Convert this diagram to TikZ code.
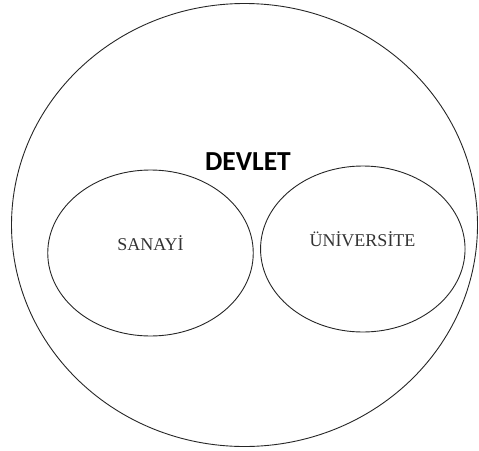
\documentclass[tikz,border=0pt]{standalone}
\usepackage{fontspec}
\setmainfont{Liberation Serif}
\newfontfamily\calib{Carlito}
\usetikzlibrary{shapes.geometric}
\begin{document}
\begin{tikzpicture}[x=1pt,y=-1pt,
  oval/.style={ellipse, draw=black!85, line width=0.9pt, inner sep=0pt},
  lbl/.style={anchor=base, inner sep=0pt, text=black!80, font=\fontsize{18}{20}\selectfont},
  title/.style={anchor=base, inner sep=0pt, font=\calib\bfseries\fontsize{27.5}{30}\selectfont}]
\useasboundingbox (0,0) rectangle (479,450);
\node[oval, minimum width=466pt, minimum height=443pt] (devlet) at (244.5,225) {};
\node[oval, minimum width=205.5pt, minimum height=166pt] (sanayi) at (150.5,253) {};
\node[oval, minimum width=204.5pt, minimum height=166pt] (univ) at (362.8,249) {};
\node[title] (tdevlet) at (248,170.5) {DEVLET};
\node[lbl] (tsanayi) at (150.5,250.7) {SANAYİ};
\node[lbl] (tuniv) at (362.5,246) {ÜNİVERSİTE};
\end{tikzpicture}
\end{document}
